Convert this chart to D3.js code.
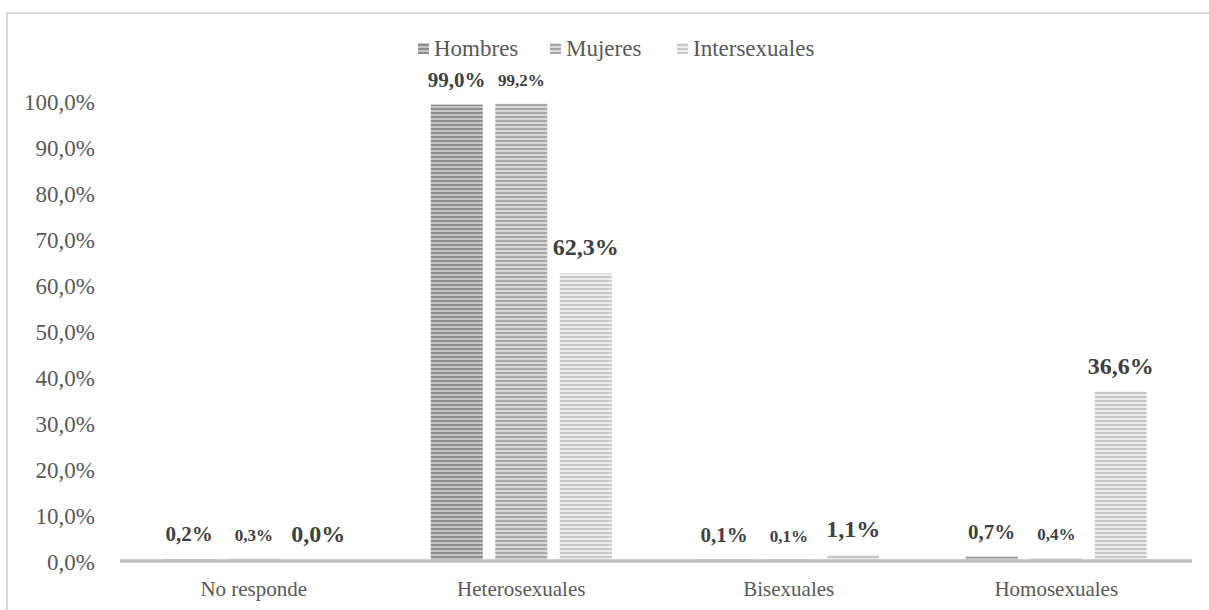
<!DOCTYPE html>
<html>
<head>
<meta charset="utf-8">
<script src="https://cdn.jsdelivr.net/npm/d3@7"></script>
<style>
  html, body { margin: 0; padding: 0; background: #ffffff; }
  svg { display: block; }
</style>
</head>
<body>
<svg id="chart" width="1209" height="610"></svg>
<script>
// Orientación sexual por sexo (%)
const categories = ["No responde", "Heterosexuales", "Bisexuales", "Homosexuales"];
const seriesNames = ["Hombres", "Mujeres", "Intersexuales"];
const hombres = [0.2, 99.0, 0.1, 0.7];
const mujeres = [0.3, 99.2, 0.1, 0.4];
const intersexuales = [0.0, 62.3, 1.1, 36.6];
const yTicks = [0, 10, 20, 30, 40, 50, 60, 70, 80, 90, 100];

const seriesValues = [hombres, mujeres, intersexuales];
const stripeColors = [
  { dark: "#8d8d8d", light: "#c6c6c6" },
  { dark: "#a7a7a7", light: "#dadada" },
  { dark: "#c8c8c8", light: "#ededed" }
];
const labelSizes = [21, 17, 24];
const serif = "Liberation Serif, Times New Roman, serif";

const svg = d3.select("#chart");
const fmt = v => d3.format(".1f")(v).replace(".", ",") + "%";

// striped fills
const defs = svg.append("defs");
seriesNames.forEach((s, i) => {
  const p = defs.append("pattern")
    .attr("id", "stripe" + i)
    .attr("patternUnits", "userSpaceOnUse")
    .attr("width", 8).attr("height", 4);
  p.append("rect").attr("width", 8).attr("height", 4).attr("fill", stripeColors[i].light);
  p.append("rect").attr("y", 0).attr("width", 8).attr("height", 2).attr("fill", stripeColors[i].dark);
});

// outer frame
svg.append("rect")
  .attr("x", 7).attr("y", 13)
  .attr("width", 1240).attr("height", 640)
  .attr("fill", "none")
  .attr("stroke", "#d9d9d9").attr("stroke-width", 2);

const x0 = d3.scaleBand().domain(categories).range([120, 1190]).padding(0);
const groupW = 181;
const x1 = d3.scaleBand().domain(seriesNames)
  .range([(x0.bandwidth() - groupW) / 2, (x0.bandwidth() + groupW) / 2])
  .paddingInner(0.194).paddingOuter(0);
const y = d3.scaleLinear().domain([0, 100]).range([560, 100]);

// y axis labels
const yAxis = svg.append("g").attr("transform", "translate(95,0)")
  .call(d3.axisLeft(y).tickValues(yTicks).tickSize(0).tickPadding(0).tickFormat(fmt));
yAxis.attr("font-family", serif);
yAxis.select(".domain").remove();
yAxis.selectAll("text")
  .attr("font-size", 23)
  .attr("fill", "#595959")
  .attr("dy", "0.4em");

// bars
const groups = svg.append("g").selectAll("g")
  .data(categories)
  .join("g")
  .attr("transform", d => `translate(${x0(d)},0)`);

groups.selectAll("rect.bar")
  .data((c, ci) => seriesNames.map((s, si) => ({ s, si, v: seriesValues[si][ci] })))
  .join("rect")
  .attr("class", "bar")
  .attr("x", d => x1(d.s))
  .attr("y", d => y(d.v))
  .attr("width", x1.bandwidth())
  .attr("height", d => y(0) - y(d.v))
  .attr("fill", d => `url(#stripe${d.si})`);

// value labels
groups.selectAll("text.val")
  .data((c, ci) => seriesNames.map((s, si) => ({ s, si, v: seriesValues[si][ci] })))
  .join("text")
  .attr("class", "val")
  .attr("x", d => x1(d.s) + x1.bandwidth() / 2)
  .attr("y", d => y(d.v) - 18)
  .attr("text-anchor", "middle")
  .attr("font-family", serif)
  .attr("font-weight", "bold")
  .attr("font-size", d => labelSizes[d.si])
  .attr("fill", "#404040")
  .text(d => fmt(d.v));

// category axis
const xAxis = svg.append("g").attr("transform", `translate(0,${y(0)})`)
  .call(d3.axisBottom(x0).tickSize(0).tickPadding(21));
xAxis.attr("font-family", serif);
xAxis.select(".domain").remove();
xAxis.selectAll("text")
  .attr("font-size", 21)
  .attr("fill", "#595959");
svg.append("line")
  .attr("x1", 120).attr("x2", 1192)
  .attr("y1", y(0) + 1).attr("y2", y(0) + 1)
  .attr("stroke", "#bfbfbf").attr("stroke-width", 3.5);

// legend
const legendX = [418, 550, 677];
const legend = svg.append("g").selectAll("g")
  .data(seriesNames)
  .join("g")
  .attr("transform", (d, i) => `translate(${legendX[i]},48)`);
legend.append("rect")
  .attr("x", 0).attr("y", -5).attr("width", 11).attr("height", 11)
  .attr("fill", (d, i) => `url(#stripe${i})`);
legend.append("text")
  .attr("x", 16).attr("y", 0).attr("dy", "0.35em")
  .attr("font-family", serif)
  .attr("font-size", 23)
  .attr("fill", "#595959")
  .text(d => d);
</script>
</body>
</html>
